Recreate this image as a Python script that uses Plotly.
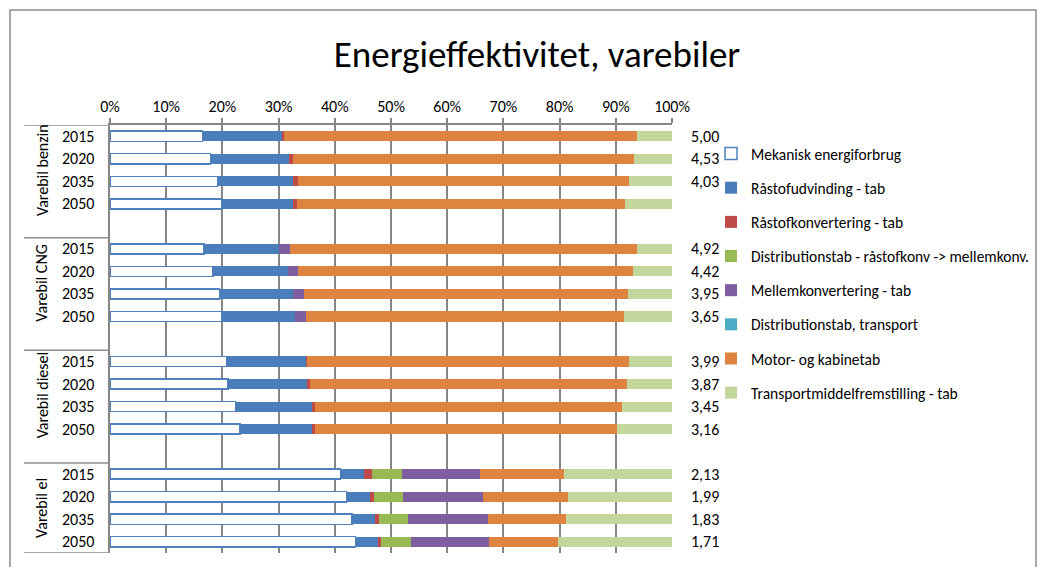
import plotly.graph_objects as go

groups = ["Varebil benzin", "Varebil CNG", "Varebil diesel", "Varebil el"]
years = ["2015", "2020", "2035", "2050"]

# andele i procent, rækkefølge: benzin, CNG, diesel, el (2015, 2020, 2035, 2050)
mekanisk = [16.5, 17.9, 19.1, 19.8, 16.7, 18.3, 19.5, 19.9, 20.8, 21.0, 22.3, 23.1, 41.0, 42.1, 43.1, 43.7]
raastofudv = [14.2, 14.0, 13.5, 12.8, 13.4, 13.3, 13.1, 13.1, 14.1, 14.1, 13.6, 12.8, 4.2, 4.2, 4.1, 4.0]
raastofkonv = [0.2, 0.7, 0.9, 0.7, 0, 0, 0, 0, 0.2, 0.5, 0.5, 0.6, 1.4, 0.6, 0.6, 0.6]
dist_mellem = [0, 0, 0, 0, 0, 0, 0, 0, 0, 0, 0, 0, 5.4, 5.3, 5.3, 5.3]
mellemkonv = [0, 0, 0, 0, 1.9, 1.9, 1.9, 1.9, 0, 0, 0, 0, 13.8, 14.2, 14.2, 13.8]
dist_transport = [0] * 16
motor = [62.9, 60.6, 58.8, 58.3, 61.7, 59.5, 57.6, 56.6, 57.2, 56.4, 54.7, 53.8, 14.9, 15.1, 13.8, 12.4]
transportmiddel = [6.2, 6.8, 7.7, 8.4, 6.3, 7.0, 7.9, 8.5, 7.7, 8.0, 8.9, 9.7, 19.3, 18.5, 18.9, 20.2]
totals = ["5,00", "4,53", "4,03", "", "4,92", "4,42", "3,95", "3,65",
          "3,99", "3,87", "3,45", "3,16", "2,13", "1,99", "1,83", "1,71"]

series = [
    ("Mekanisk energiforbrug", mekanisk, "white"),
    ("Råstofudvinding - tab", raastofudv, "#4A7EBB"),
    ("Råstofkonvertering - tab", raastofkonv, "#BE4B48"),
    ("Distributionstab - råstofkonv -> mellemkonv.", dist_mellem, "#98B954"),
    ("Mellemkonvertering - tab", mellemkonv, "#7D5FA0"),
    ("Distributionstab, transport", dist_transport, "#4BACC6"),
    ("Motor- og kabinetab", motor, "#DF8440"),
    ("Transportmiddelfremstilling - tab", transportmiddel, "#C3D69B"),
]

# række-position: 4 år pr. gruppe + en tom række mellem grupper
ypos = [g * 5 + j for g in range(len(groups)) for j in range(len(years))]

FONT = "Carlito, Calibri, Lato, sans-serif"
OFF = 8  # body-margin i html-siden
W, H = 1045 - 2 * OFF, 575 - 2 * OFF
L, R, T, B = 110 - OFF, 672 - OFF, 125 - OFF, 553 - OFF


def px(x):  # skærm-pixel -> paper x
    return (x - OFF - L) / (R - L)


def py(y):  # skærm-pixel -> paper y
    return (B - (y - OFF)) / (B - T)


fig = go.Figure()
for i, (name, vals, col) in enumerate(series):
    line = dict(color="#4F81BD", width=1.5) if i == 0 else dict(width=0)
    fig.add_trace(go.Bar(
        x=vals, y=ypos, orientation="h", name=name, width=0.45,
        marker=dict(color=col, line=line), legendgroup=name,
    ))

ann = []
for k, y in enumerate(ypos):
    ann.append(dict(x=px(96), y=y, xref="paper", yref="y", text=years[k % 4],
                    showarrow=False, xanchor="right", font=dict(size=16)))
    if totals[k]:
        ann.append(dict(x=px(689), y=y, xref="paper", yref="y", text=totals[k],
                        showarrow=False, xanchor="left", font=dict(size=16)))
for g, name in enumerate(groups):
    ann.append(dict(x=px(42), y=g * 5 + 1.5, xref="paper", yref="y", text=name,
                    textangle=-90, showarrow=False, xanchor="center",
                    yanchor="middle", font=dict(size=16)))

shapes = []
for b in [-0.5, 4.5, 9.5, 14.5, 18.5]:
    shapes.append(dict(type="line", xref="paper", yref="y", x0=px(24), x1=0,
                       y0=b, y1=b, line=dict(color="#8C8C8C", width=1.5)))
# ramme om diagrammet
shapes.append(dict(type="rect", xref="paper", yref="paper", x0=px(10), x1=px(1036),
                   y0=py(600), y1=py(10), line=dict(color="#8C8C8C", width=1.5)))

fig.update_layout(
    width=W, height=H, autosize=False,
    margin=dict(l=L, r=W - R, t=T, b=H - B, autoexpand=False),
    barmode="stack", barnorm="percent",
    plot_bgcolor="white", paper_bgcolor="white",
    font=dict(family=FONT, size=16, color="black"),
    title=dict(text="Energieffektivitet, varebiler", x=(537 - OFF) / W, xanchor="center",
               y=1 - (54 - OFF) / H, yanchor="middle", font=dict(size=37)),
    xaxis=dict(side="top", range=[0, 100], dtick=10, ticksuffix="%",
               showgrid=True, gridcolor="#868686", gridwidth=1.5,
               showline=True, linecolor="#868686", linewidth=1.5,
               ticks="outside", ticklen=5, tickcolor="#868686", tickwidth=1.5,
               zeroline=False, fixedrange=True, tickfont=dict(size=16)),
    yaxis=dict(range=[18.5, -0.5], showticklabels=False, showgrid=False,
               zeroline=False, showline=True, linecolor="#868686", linewidth=1.5),
    showlegend=True,
    legend=dict(x=px(711), y=py(137), xanchor="left", yanchor="top",
                traceorder="grouped", tracegroupgap=11, font=dict(size=15.5),
                itemwidth=30, bgcolor="rgba(0,0,0,0)"),
    annotations=ann, shapes=shapes,
)

fig.write_html("out.html")
